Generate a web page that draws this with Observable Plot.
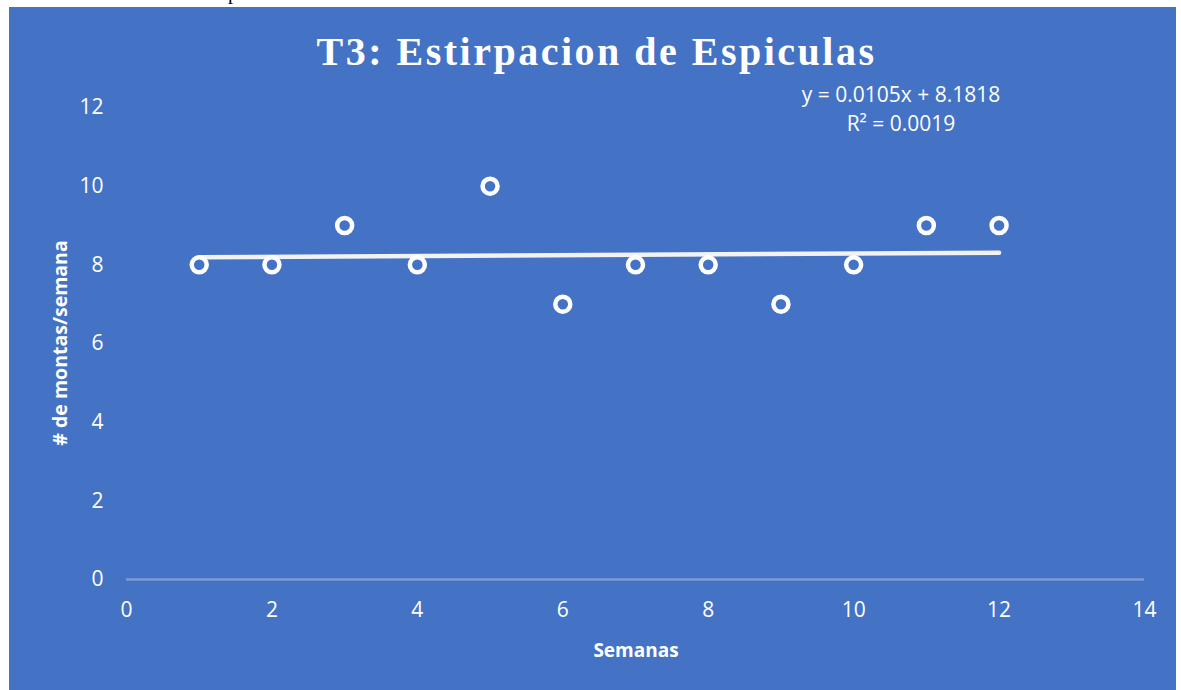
<!DOCTYPE html>
<html>
<head>
<meta charset="utf-8">
<script src="https://cdn.jsdelivr.net/npm/d3@7"></script>
<script src="https://cdn.jsdelivr.net/npm/@observablehq/plot@0.6"></script>
<style>
  html, body { margin: 0; padding: 0; background: #ffffff; width: 1181px; height: 690px; overflow: hidden; }
  #panel { position: absolute; left: 9px; top: 7px; width: 1167px; height: 683px; background: #4472C4; }
  .txt { position: absolute; color: #ffffff; white-space: nowrap; }
  #frag { position: absolute; left: 228px; top: -18px; font: 20px "Liberation Serif", serif; line-height: 1; color: #000; }
  #title { left: 0; width: 1181px; text-align: center; top: 28px; font: bold 40px "Liberation Serif", "Times New Roman", serif; letter-spacing: 2.5px; line-height: 48px; padding-left: 12px; box-sizing: border-box; }
  #eq { left: 751px; width: 300px; text-align: center; top: 80px; font: 21px "Open Sans", sans-serif; line-height: 29px; }
  #xlabel { left: 536px; width: 200px; text-align: center; top: 636px; font: bold 19px "Open Sans", sans-serif; line-height: 28px; }
  #ylabel { left: 60px; top: 343px; transform: translate(-50%, -50%) rotate(-90deg); font: bold 19.5px "Open Sans", sans-serif; line-height: 28px; }
</style>
</head>
<body>
<div id="frag">p</div>
<div id="panel"></div>
<div id="chart" style="position:absolute; left:9px; top:7px;"></div>
<div class="txt" id="title"></div>
<div class="txt" id="eq"></div>
<div class="txt" id="xlabel"></div>
<div class="txt" id="ylabel"></div>
<script>
const titleText = "T3: Estirpacion de Espiculas";
const xLabel = "Semanas";
const yLabel = "# de montas/semana";
const equationLines = ["y = 0.0105x + 8.1818", "R² = 0.0019"];
const semanas = [1, 2, 3, 4, 5, 6, 7, 8, 9, 10, 11, 12];
const montas = [8, 8, 9, 8, 10, 7, 8, 8, 7, 8, 9, 9];
const xTicks = [0, 2, 4, 6, 8, 10, 12, 14];
const yTicks = [0, 2, 4, 6, 8, 10, 12];

const data = semanas.map((s, i) => ({semana: s, montas: montas[i]}));

document.getElementById("title").textContent = titleText;
document.getElementById("xlabel").textContent = xLabel;
document.getElementById("ylabel").textContent = yLabel;
document.getElementById("eq").innerHTML = equationLines.map(l => `<div>${l}</div>`).join("");

const chart = Plot.plot({
  width: 1167,
  height: 683,
  marginLeft: 117,
  marginRight: 32,
  marginTop: 100,
  marginBottom: 111,
  style: {background: "transparent", color: "#ffffff", fontFamily: "'Open Sans', sans-serif", fontSize: "21px", overflow: "visible"},
  x: {domain: [0, 14]},
  y: {domain: [0, 12]},
  marks: [
    Plot.ruleY([0], {stroke: "#7c9cd6", strokeWidth: 2.5}),
    Plot.axisX({ticks: xTicks, tickSize: 0, tickPadding: 23, label: null, fill: "#ffffff"}),
    Plot.axisY({ticks: yTicks, tickSize: 0, tickPadding: 23, label: null, fill: "#ffffff"}),
    Plot.linearRegressionY(data, {x: "semana", y: "montas", ci: 0, stroke: "#f2f2f2", strokeWidth: 4.5}),
    Plot.dot(data, {x: "semana", y: "montas", r: 7.5, stroke: "#ffffff", strokeWidth: 4.5, fill: "#4472C4"})
  ]
});
document.getElementById("chart").appendChild(chart);
</script>
</body>
</html>
